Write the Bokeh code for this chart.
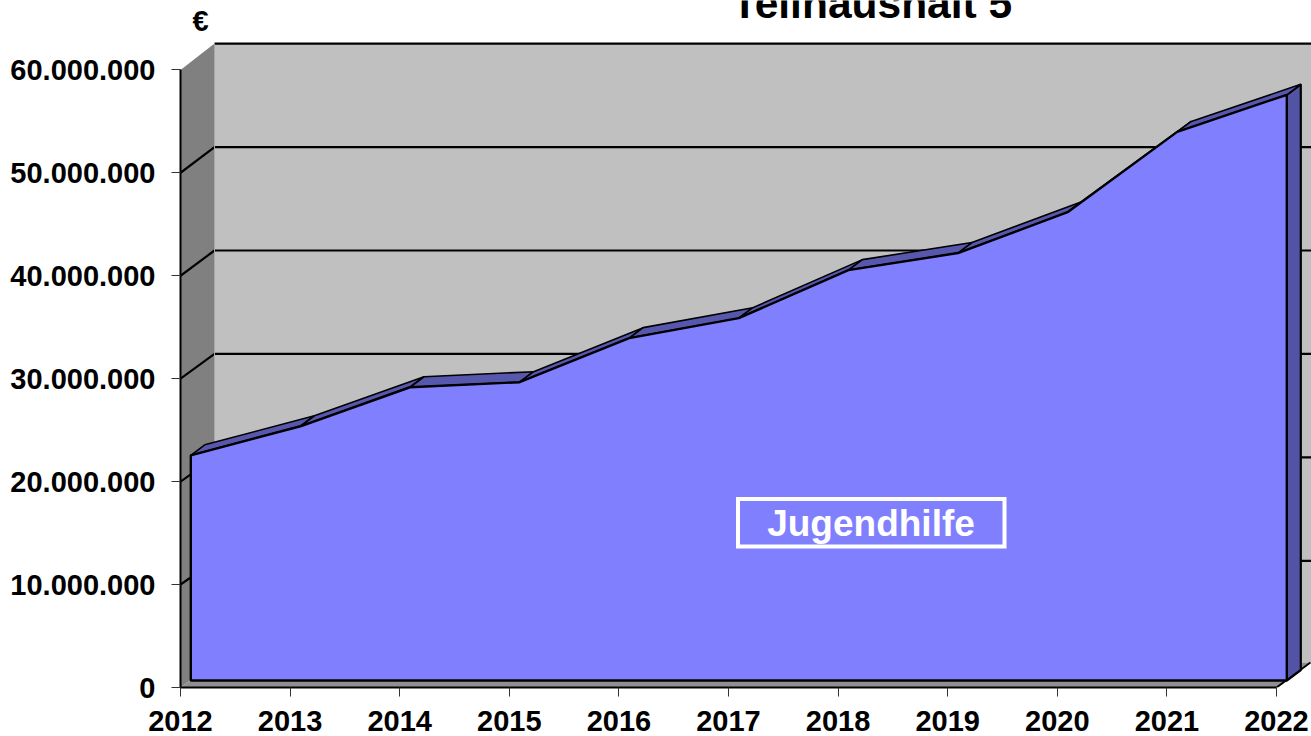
from bokeh.plotting import figure
from bokeh.embed import file_html
from bokeh.resources import INLINE
from bokeh.core.properties import value
from bokeh.models import FixedTicker

years = [2012, 2013, 2014, 2015, 2016, 2017, 2018, 2019, 2020, 2021, 2022]
euros = [21.88e6, 24.7e6, 28.49e6, 28.98e6, 33.26e6, 35.2e6, 39.87e6, 41.53e6, 45.5e6, 53.3e6, 56.9e6]
y_ticks = [0, 10e6, 20e6, 30e6, 40e6, 50e6, 60e6]
y_labels = ["0", "10.000.000", "20.000.000", "30.000.000", "40.000.000", "50.000.000", "60.000.000"]
title_text = "Teilhaushalt 5"
unit_text = "€"
series_name = "Jugendhilfe"

W, H = 1311, 736
L, B = 180, 49
PX_PER_YEAR = 109.6
PX_PER_EURO = 102.93 / 10e6
FONT = "Liberation Sans"

x0, x1 = 2012, 2012 + (W - L) / PX_PER_YEAR
y0, y1 = 0, (H - B) / PX_PER_EURO

p = figure(width=W, height=H, output_backend="svg", toolbar_location=None,
           x_range=(x0, x1), y_range=(y0, y1),
           min_border_left=L, min_border_right=0, min_border_top=0, min_border_bottom=B)
p.styles = {"position": "absolute", "left": "0px", "top": "0px"}
p.outline_line_color = None
p.grid.visible = False
p.background_fill_color = "white"


def dx(px):
    return px / PX_PER_YEAR


def dy(px):
    return px / PX_PER_EURO


def sx(px):
    return x0 + (px - L) / PX_PER_YEAR


def sy(px):
    return (H - B - px) / PX_PER_EURO


def wall_dy(v):
    # the back wall is drawn a little taller than the front plane
    return dy(23.2 + 0.52 * v / 10e6)


WALL_X = dx(34)
FLOOR_Y = dy(25)
F_X, F_Y = dx(10.3), dy(7)     # front of the area band
D_X, D_Y = dx(14), dy(10.5)    # depth of the area band

# walls
xa, xb = years[0], years[-1]
ymax = y_ticks[-1]
top = ymax + wall_dy(ymax)
p.patch([xa, xa + WALL_X, xa + WALL_X, xa], [0, FLOOR_Y, top, ymax],
        fill_color="#808080", line_color=None)
p.patch([xa + WALL_X, x1, x1, xa + WALL_X], [FLOOR_Y, FLOOR_Y, top, top],
        fill_color="#c0c0c0", line_color=None)
p.patch([xa, xb, xb + WALL_X, xa + WALL_X], [0, 0, FLOOR_Y, FLOOR_Y],
        fill_color="#8f8f8f", line_color=None)
p.line([xb, xb + WALL_X], [0, FLOOR_Y], line_color="black", line_width=2)

# grid on the walls
for v in y_ticks[1:-1]:
    p.line([xa, xa + WALL_X, x1], [v, v + wall_dy(v), v + wall_dy(v)], line_color="black", line_width=2.2)
p.line([xa + WALL_X, x1], [top, top], line_color="black", line_width=2.2)
p.line([xa + WALL_X, xa + WALL_X], [FLOOR_Y, top], line_color="#a8a8a8", line_width=1)

# front band of the area
fx = [x + F_X for x in years]
fy = [v + F_Y for v in euros]

# right side face
p.patch([fx[-1], fx[-1] + D_X, fx[-1] + D_X, fx[-1]],
        [F_Y, F_Y + D_Y, fy[-1] + D_Y, fy[-1]],
        fill_color="#5353a6", line_color="black", line_width=2.2)

# top faces
for i in range(len(years) - 1):
    p.patch([fx[i], fx[i + 1], fx[i + 1] + D_X, fx[i] + D_X],
            [fy[i], fy[i + 1], fy[i + 1] + D_Y, fy[i] + D_Y],
            fill_color="#5757ae", line_color="black", line_width=1.6)

# front face
p.patch([fx[0]] + fx + [fx[-1]], [F_Y] + fy + [F_Y],
        fill_color="#8080ff", line_color="black", line_width=2.4)

# name box
p.quad(left=[sx(737.5)], right=[sx(1004)], top=[sy(498.5)], bottom=[sy(546)],
       fill_color=None, line_color="white", line_width=4, line_join="miter")
p.text(x=[sx(870.5)], y=[sy(522.5)], text=[series_name], text_color="white",
       text_font=value(FONT), text_font_style="bold", text_font_size="37px",
       text_align="center", text_baseline="alphabetic")

# title and unit
p.text(x=[sx(871.5)], y=[sy(2.5)], text=[title_text], text_color="black",
       text_font=value(FONT), text_font_style="bold", text_font_size="42.5px",
       text_align="center", text_baseline="alphabetic")
p.text(x=[sx(200)], y=[sy(20)], text=[unit_text], text_color="black",
       text_font=value(FONT), text_font_style="bold", text_font_size="29px",
       text_align="center", text_baseline="alphabetic")

# axes
xa_ = p.xaxis[0]
xa_.ticker = FixedTicker(ticks=years)
xa_.major_label_overrides = {y: str(y) for y in years}
xa_.bounds = (years[0], years[-1])
ya_ = p.yaxis[0]
ya_.ticker = FixedTicker(ticks=y_ticks)
ya_.major_label_overrides = {t: s for t, s in zip(y_ticks, y_labels)}
ya_.bounds = (y_ticks[0], y_ticks[-1])
for ax in (xa_, ya_):
    ax.axis_line_color = "black"
    ax.axis_line_width = 2
    ax.major_tick_line_color = "#333333"
    ax.major_tick_line_width = 1
    ax.major_tick_in = 0
    ax.major_tick_out = 9
    ax.minor_tick_line_color = None
    ax.major_label_text_font = FONT
    ax.major_label_text_font_style = "bold"
    ax.major_label_text_font_size = "29px"
    ax.major_label_text_color = "black"
xa_.major_label_standoff = 14
ya_.major_label_standoff = 16

open("out.html", "w").write(file_html(p, INLINE))
